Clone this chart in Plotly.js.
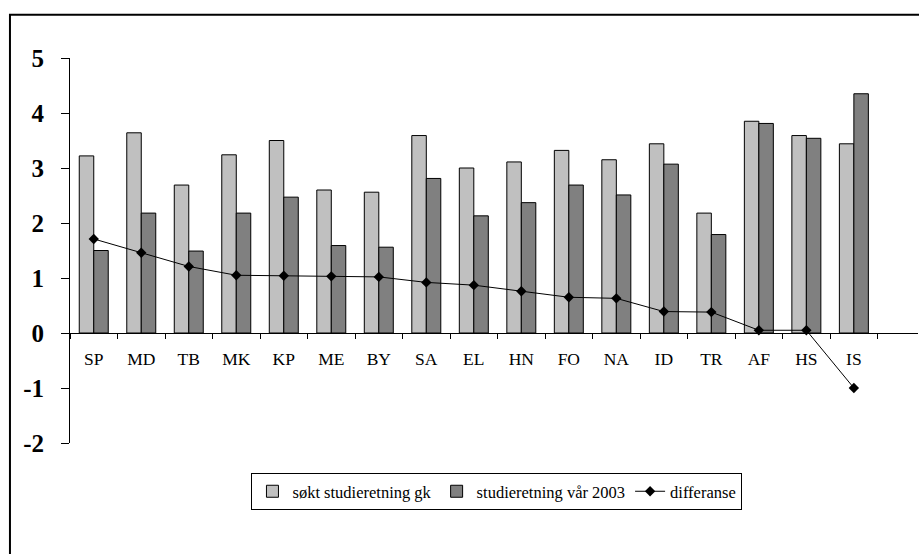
<!DOCTYPE html>
<html>
<head>
<meta charset="utf-8">
<script src="https://cdn.plot.ly/plotly-3.0.1.min.js"></script>
<style>
  html, body { margin: 0; padding: 0; background: #fff; }
  #chart { width: 919px; height: 554px; }
</style>
</head>
<body>
<div id="chart"></div>
<script>
const categories = ["SP","MD","TB","MK","KP","ME","BY","SA","EL","HN","FO","NA","ID","TR","AF","HS","IS"];
const soktGk = [3.22,3.64,2.69,3.24,3.50,2.60,2.56,3.59,3.00,3.11,3.32,3.15,3.44,2.18,3.85,3.59,3.44];
const var2003 = [1.50,2.18,1.49,2.18,2.47,1.59,1.56,2.81,2.13,2.37,2.69,2.51,3.07,1.79,3.81,3.54,4.35];
const differanse = [1.71,1.46,1.21,1.05,1.04,1.03,1.02,0.92,0.87,0.76,0.65,0.63,0.39,0.38,0.05,0.05,-1.00];
const yTicks = [-2,-1,0,1,2,3,4,5];

const serif = "'Liberation Serif', 'Times New Roman', serif";

const traces = [
  {
    type: 'bar', name: 'søkt studieretning gk', x: categories, y: soktGk,
    marker: { color: '#C0C0C0', line: { color: '#000000', width: 1 } }
  },
  {
    type: 'bar', name: 'studieretning vår 2003', x: categories, y: var2003,
    marker: { color: '#808080', line: { color: '#000000', width: 1 } }
  },
  {
    type: 'scatter', mode: 'lines+markers', name: 'differanse', x: categories, y: differanse,
    line: { color: '#000000', width: 1 },
    marker: { symbol: 'diamond', size: 8, color: '#000000' }
  }
];

const layout = {
  width: 919, height: 554,
  margin: { l: 70, r: 1, t: 58, b: 111 },
  paper_bgcolor: '#ffffff', plot_bgcolor: '#ffffff',
  font: { family: serif, color: '#000000' },
  barmode: 'group', bargap: 0.39, bargroupgap: 0,
  showlegend: true,
  legend: {
    orientation: 'h', x: 0.5035, xanchor: 'center', y: -0.078, yanchor: 'top',
    bordercolor: '#000000', borderwidth: 1, bgcolor: '#ffffff',
    font: { family: serif, size: 16.5, color: '#000000' },
    traceorder: 'normal', itemwidth: 30
  },
  xaxis: {
    type: 'category', range: [-0.5, 17.35],
    anchor: 'free', position: 2/7,
    showline: true, linecolor: '#000000', linewidth: 1,
    ticks: 'outside', ticklen: 5, tickcolor: '#000000', tickson: 'boundaries',
    showgrid: false, zeroline: false,
    tickfont: { family: serif, size: 17.5, color: '#000000' },
    ticklabelstandoff: 10
  },
  yaxis: {
    range: [-2, 5], tickvals: yTicks, ticktext: yTicks.map(String),
    showline: true, linecolor: '#000000', linewidth: 1,
    ticks: 'outside', ticklen: 8, tickcolor: '#000000',
    showgrid: false, zeroline: false,
    tickfont: { family: serif, size: 25, color: '#000000', weight: 'bold' },
    ticklabelstandoff: 12
  },
  shapes: [
    {
      type: 'rect', xref: 'paper', yref: 'paper',
      x0: -0.0708, x1: 1.05, y0: -0.4, y1: 1.1125,
      line: { color: '#000000', width: 2 }, fillcolor: 'rgba(0,0,0,0)', layer: 'above'
    }
  ]
};

Plotly.newPlot('chart', traces, layout, { displayModeBar: false, staticPlot: true });
</script>
</body>
</html>
